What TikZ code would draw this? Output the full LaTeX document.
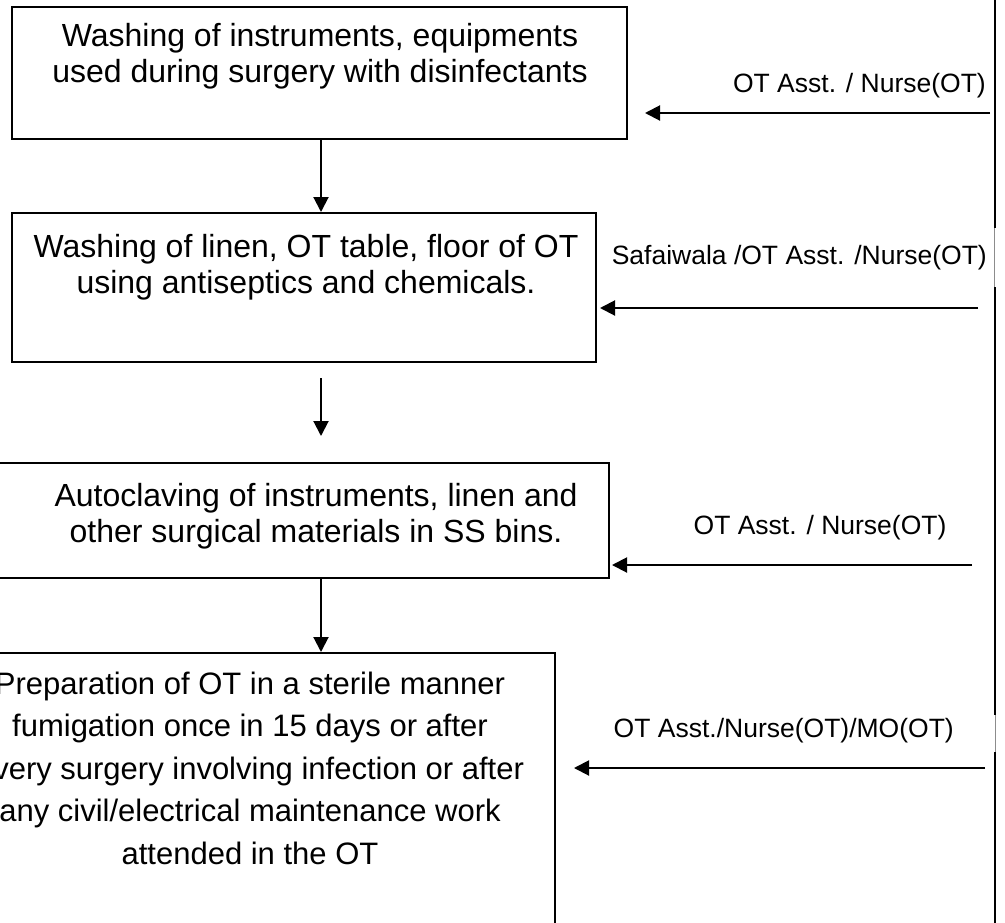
\documentclass[tikz,border=0pt]{standalone}
\usepackage{fontspec}
\setmainfont{Liberation Sans}
\usetikzlibrary{arrows.meta,calc}
\begin{document}
\begin{tikzpicture}[x=1pt,y=-1pt,
  stepbox/.style={draw=black, line width=2pt, rectangle, inner sep=0pt},
  steptext/.style={align=center, inner sep=0pt, font=\fontsize{32}{35.5}\selectfont},
  role/.style={inner sep=0pt, font=\fontsize{26.5}{30}\selectfont},
  flow/.style={line width=2pt, -{Triangle[length=15pt,width=15pt]}},
  rail/.style={line width=2.5pt},
  railgap/.style={line width=0.6pt, draw=black!45},
]
\useasboundingbox (0,0) rectangle (1005,922);
\clip (0,0) rectangle (1005,922);

% process boxes
\node[stepbox, minimum width=615pt, minimum height=132pt] (b1) at (319.5,73) {};
\node[stepbox, minimum width=584pt, minimum height=149pt] (b2) at (304,287.5) {};
\node[stepbox, minimum width=629pt, minimum height=115pt] (b3) at (294.5,520.5) {};
\node[stepbox, minimum width=606pt, minimum height=297pt] (b4) at (252,801.5) {};

% box texts
\node[steptext] (t1) at (320,56) {Washing of instruments, equipments\\used during surgery with disinfectants};
\node[steptext] (t2) at (306,267) {Washing of linen, OT table, floor of OT\\using antiseptics and chemicals.};
\node[steptext] (t3) at (316,516) {Autoclaving of instruments, linen and\\other surgical materials in SS bins.};
\node[steptext, font=\fontsize{31}{42.5}\selectfont] (t4) at (250,768)
  {Preparation of OT in a sterile manner\\fumigation once in 15 days or after\\every surgery involving infection or after\\any civil/electrical maintenance work\\attended in the OT};

% downward flow
\coordinate (v) at (321,0);
\coordinate (m1) at (321,378);
\coordinate (m2) at (321,436);
\draw[flow] (v |- b1.south) -- (v |- b2.north);
\draw[flow] (m1) -- (m2);
\draw[flow] (v |- b3.south) -- (v |- b4.north);

% responsible staff
\node[role, anchor=east] (l1) at (986,86) {OT Asst. / Nurse(OT)};
\node[role, anchor=east] (l2) at (987,258) {Safaiwala /OT Asst. /Nurse(OT)};
\node[role] (l3) at (820,528) {OT Asst. / Nurse(OT)};
\node[role, anchor=east] (l4) at (954,731) {OT Asst./Nurse(OT)/MO(OT)};

% arrows from staff to each step
\coordinate (s1) at (990,113);
\coordinate (s2) at (978,308);
\coordinate (s3) at (972,565);
\coordinate (s4) at (985,768);
\draw[flow] (s1) -- ($(b1.east |- s1)+(17,0)$);
\draw[flow] (s2) -- ($(b2.east |- s2)+(3,0)$);
\draw[flow] (s3) -- ($(b3.east |- s3)+(2,0)$);
\draw[flow] (s4) -- ($(b4.east |- s4)+(18,0)$);

% right-hand rail
\coordinate (r0) at (995,-2);
\coordinate (r1) at (995,228);
\coordinate (r2) at (995,287);
\coordinate (r3) at (995,715);
\coordinate (r4) at (995,752);
\coordinate (r5) at (995,925);
\draw[rail] (r0) -- (r1);
\draw[rail] (r2) -- (r3);
\draw[rail] (r4) -- (r5);
\draw[railgap] ($(r1)+(-1,0)$) -- ($(r2)+(-1,0)$);
\draw[railgap] (r3) -- (r4);
\end{tikzpicture}
\end{document}
